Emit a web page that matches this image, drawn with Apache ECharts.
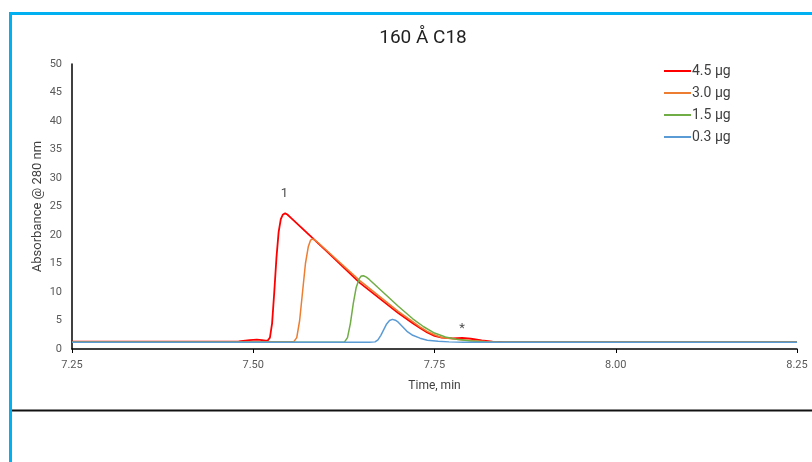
<!DOCTYPE html>
<html>
<head>
<meta charset="utf-8">
<script src="https://cdn.jsdelivr.net/npm/echarts@6/dist/echarts.min.js"></script>
<style>html,body{margin:0;padding:0;background:#fff;}#c{width:812px;height:462px;}</style>
</head>
<body>
<div id="c"></div>
<script>
var seriesNames = ['4.5 µg', '3.0 µg', '1.5 µg', '0.3 µg'];
var seriesColors = ['#ff0000', '#ed7d31', '#70ad47', '#5b9bd5'];
var xTicks = [7.25, 7.50, 7.75, 8.00, 8.25];

var redT = [7.25, 7.40, 7.48, 7.495, 7.505, 7.512, 7.517, 7.520, 7.523, 7.526, 7.529, 7.532, 7.535, 7.538, 7.541, 7.544, 7.547, 7.552, 7.60, 7.647, 7.70, 7.72, 7.73, 7.74, 7.75, 7.76, 7.775, 7.788, 7.80, 7.815, 7.83, 7.85, 7.90, 8.25];
var redY = [1.3, 1.3, 1.35, 1.55, 1.65, 1.55, 1.45, 1.5, 2.0, 4.5, 10.0, 16.0, 20.5, 22.8, 23.6, 23.8, 23.6, 23.0, 17.3, 11.6, 6.3, 4.5, 3.7, 2.9, 2.3, 2.0, 1.85, 1.95, 1.8, 1.5, 1.3, 1.2, 1.2, 1.2];

var orangeT = [7.25, 7.50, 7.556, 7.560, 7.564, 7.568, 7.572, 7.576, 7.579, 7.582, 7.585, 7.59, 7.647, 7.70, 7.72, 7.73, 7.74, 7.75, 7.76, 7.78, 7.80, 7.82, 7.84, 7.90, 8.25];
var orangeY = [1.25, 1.25, 1.3, 2.0, 5.0, 10.0, 15.0, 18.0, 19.1, 19.3, 19.1, 18.6, 12.0, 6.6, 4.8, 3.9, 3.1, 2.5, 2.0, 1.7, 1.5, 1.3, 1.2, 1.2, 1.2];

var greenT = [7.25, 7.60, 7.626, 7.630, 7.634, 7.638, 7.642, 7.646, 7.649, 7.652, 7.656, 7.66, 7.70, 7.72, 7.735, 7.75, 7.765, 7.78, 7.80, 7.82, 7.85, 8.25];
var greenY = [1.2, 1.2, 1.25, 2.0, 4.5, 8.0, 10.8, 12.3, 12.8, 12.85, 12.6, 12.2, 7.5, 5.3, 3.9, 2.8, 2.1, 1.7, 1.4, 1.25, 1.2, 1.2];

var blueT = [7.25, 7.66, 7.668, 7.672, 7.676, 7.680, 7.684, 7.688, 7.692, 7.696, 7.70, 7.706, 7.712, 7.72, 7.73, 7.74, 7.755, 7.77, 7.79, 8.25];
var blueY = [1.2, 1.2, 1.25, 1.6, 2.4, 3.4, 4.4, 5.0, 5.2, 5.05, 4.7, 3.9, 3.1, 2.4, 1.9, 1.55, 1.35, 1.25, 1.2, 1.2];

var annoLabels = [{ text: '1', t: 7.543, y: 27.3 }, { text: '*', t: 7.788, y: 3.6 }];

function pairs(ts, ys) { return ts.map(function (t, i) { return [t, ys[i]]; }); }
var allData = [pairs(redT, redY), pairs(orangeT, orangeY), pairs(greenT, greenY), pairs(blueT, blueY)];

var chart = echarts.init(document.getElementById('c'), null, { renderer: 'canvas' });
var font = 'Roboto, "Liberation Sans", sans-serif';

var series = allData.map(function (d, i) {
  return {
    name: seriesNames[i],
    type: 'line',
    data: d,
    showSymbol: false,
    smooth: false,
    z: i === 0 ? 5 : 6 + i,
    lineStyle: { color: seriesColors[i], width: i === 0 ? 1.8 : 1.5, join: 'round' },
    itemStyle: { color: seriesColors[i] }
  };
});
series.push({
  type: 'scatter',
  data: annoLabels.map(function (a) { return { value: [a.t, a.y], label: { formatter: a.text } }; }),
  symbolSize: 0,
  silent: true,
  label: { show: true, position: 'inside', color: '#222', fontSize: 13, fontFamily: font }
});

chart.setOption({
  animation: false,
  backgroundColor: '#fff',
  title: {
    text: '160 Å C18', left: 418, top: 24, textAlign: 'center',
    textStyle: { fontFamily: font, fontSize: 19, fontWeight: 'normal', color: '#222' }
  },
  legend: {
    data: seriesNames, orient: 'vertical', left: 664, top: 64, padding: 0,
    itemWidth: 27, itemHeight: 2, itemGap: 8, icon: 'rect',
    textStyle: { fontFamily: font, fontSize: 14, color: '#404040', padding: [0, 0, 0, -4] }
  },
  grid: { left: 72, right: 15, top: 64, bottom: 113 },
  xAxis: {
    type: 'value', min: 7.25, max: 8.25, interval: 0.25,
    name: 'Time, min', nameLocation: 'middle', nameGap: 31,
    nameTextStyle: { fontFamily: font, fontSize: 12, color: '#404040' },
    axisLine: { lineStyle: { color: '#000', width: 1.5 } },
    axisTick: { show: true, length: 4, lineStyle: { color: '#000' } },
    splitLine: { show: false },
    axisLabel: { fontFamily: font, fontSize: 11, color: '#595959', margin: 11,
      formatter: function (v) { return v.toFixed(2); } }
  },
  yAxis: {
    type: 'value', min: 0, max: 50, interval: 5,
    name: 'Absorbance @ 280 nm', nameLocation: 'middle', nameGap: 28, nameMoveOverlap: false,
    nameTextStyle: { fontFamily: font, fontSize: 13, color: '#404040' },
    axisLine: { show: true, lineStyle: { color: '#000', width: 1.5 } },
    axisTick: { show: false },
    splitLine: { show: false },
    axisLabel: { fontFamily: font, fontSize: 11, color: '#595959', margin: 10 }
  },
  graphic: [
    { type: 'rect', shape: { x: 9, y: 12, width: 803, height: 3 }, style: { fill: '#00b0f0' } },
    { type: 'rect', shape: { x: 9, y: 12, width: 3, height: 450 }, style: { fill: '#00b0f0' } },
    { type: 'rect', shape: { x: 12, y: 409.5, width: 800, height: 2 }, style: { fill: '#111' } }
  ],
  series: series
});
</script>
</body>
</html>
